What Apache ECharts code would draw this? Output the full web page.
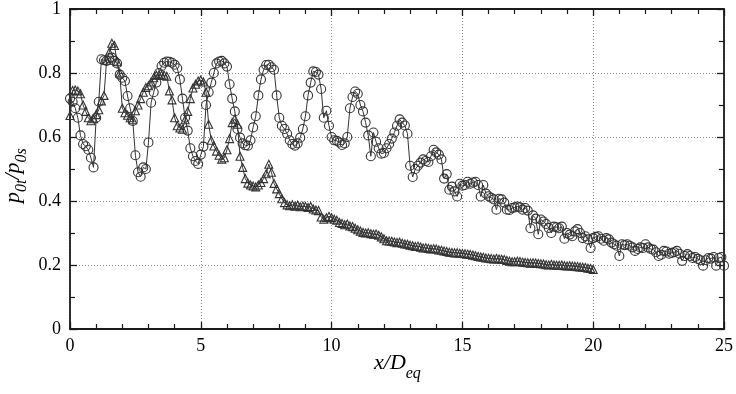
<!DOCTYPE html>
<html>
<head>
<meta charset="utf-8">
<script src="https://cdn.jsdelivr.net/npm/echarts@6/dist/echarts.min.js"></script>
<style>
html,body{margin:0;padding:0;background:#fff;}
#chart{width:736px;height:394px;}
</style>
</head>
<body>
<div id="chart"></div>
<script>
// x/D_eq tick labels
const xTicks = [0, 5, 10, 15, 20, 25];
const yTicks = [0, 0.2, 0.4, 0.6, 0.8, 1];

// Circle series: [x/D_eq, p0t/p0s]
const circles = [
[0.0,0.72],[0.1,0.71],[0.2,0.69],[0.3,0.66],[0.4,0.605],[0.5,0.578],[0.6,0.571],[0.7,0.56],[0.8,0.535],[0.9,0.505],
[1.0,0.66],[1.1,0.71],[1.2,0.843],[1.3,0.84],[1.4,0.838],[1.5,0.846],[1.6,0.848],[1.7,0.838],[1.8,0.83],[1.9,0.795],
[2.0,0.785],[2.1,0.775],[2.2,0.728],[2.3,0.69],[2.4,0.65],[2.5,0.543],[2.6,0.49],[2.7,0.476],[2.8,0.505],[2.9,0.50],
[3.0,0.583],[3.1,0.707],[3.2,0.74],[3.3,0.77],[3.4,0.80],[3.5,0.822],[3.6,0.832],[3.7,0.836],[3.8,0.835],[3.9,0.832],
[4.0,0.826],[4.1,0.815],[4.2,0.78],[4.3,0.72],[4.4,0.66],[4.5,0.62],[4.6,0.565],[4.7,0.54],[4.8,0.525],[4.9,0.516],
[5.0,0.545],[5.1,0.57],[5.2,0.70],[5.3,0.74],[5.4,0.77],[5.5,0.80],[5.6,0.83],[5.7,0.836],[5.8,0.838],[5.9,0.83],
[6.0,0.82],[6.1,0.765],[6.2,0.72],[6.3,0.68],[6.4,0.625],[6.5,0.598],[6.6,0.58],[6.7,0.574],[6.8,0.573],[6.9,0.59],
[7.0,0.63],[7.1,0.665],[7.2,0.73],[7.3,0.78],[7.4,0.81],[7.5,0.825],[7.6,0.826],[7.7,0.818],[7.8,0.81],[7.9,0.73],
[8.0,0.66],[8.1,0.635],[8.2,0.625],[8.3,0.61],[8.4,0.59],[8.5,0.578],[8.6,0.573],[8.7,0.58],[8.8,0.598],[8.9,0.625],
[9.0,0.665],[9.1,0.73],[9.2,0.77],[9.3,0.805],[9.4,0.803],[9.5,0.795],[9.6,0.75],[9.7,0.66],[9.8,0.682],[9.9,0.635],
[10.0,0.60],[10.1,0.59],[10.2,0.588],[10.3,0.583],[10.4,0.575],[10.5,0.58],[10.6,0.60],[10.7,0.69],[10.8,0.725],[10.9,0.742],
[11.0,0.735],[11.1,0.70],[11.2,0.68],[11.3,0.645],[11.4,0.605],[11.5,0.54],[11.6,0.614],[11.7,0.585],[11.8,0.565],[11.9,0.548],
[12.0,0.55],[12.1,0.565],[12.2,0.578],[12.3,0.595],[12.4,0.614],[12.5,0.635],[12.6,0.655],[12.7,0.645],[12.8,0.636],[12.9,0.61],
[13.0,0.51],[13.1,0.475],[13.2,0.50],[13.3,0.51],[13.4,0.52],[13.5,0.53],[13.6,0.525],[13.7,0.522],[13.8,0.54],[13.9,0.56],
[14.0,0.552],[14.1,0.545],[14.2,0.53],[14.3,0.47],[14.4,0.484],[14.5,0.435],[14.6,0.445],[14.7,0.43],[14.8,0.414],[14.9,0.454],
[15.0,0.448],[15.1,0.45],[15.2,0.46],[15.3,0.454],[15.4,0.458],[15.5,0.46],[15.6,0.45],[15.7,0.414],[15.8,0.45],[15.9,0.423],
[16.0,0.415],[16.1,0.41],[16.2,0.405],[16.3,0.373],[16.4,0.407],[16.5,0.405],[16.6,0.395],[16.7,0.373],[16.8,0.372],[16.9,0.378],
[17.0,0.38],[17.1,0.383],[17.2,0.38],[17.3,0.373],[17.4,0.378],[17.5,0.37],[17.6,0.315],[17.7,0.355],[17.8,0.345],[17.9,0.296],
[18.0,0.342],[18.1,0.336],[18.2,0.328],[18.3,0.316],[18.4,0.30],[18.5,0.32],[18.6,0.318],[18.7,0.315],[18.8,0.32],[18.9,0.282],
[19.0,0.30],[19.1,0.295],[19.2,0.29],[19.3,0.305],[19.4,0.312],[19.5,0.30],[19.6,0.284],[19.7,0.29],[19.8,0.28],[19.9,0.253],
[20.0,0.284],[20.1,0.288],[20.2,0.29],[20.3,0.282],[20.4,0.276],[20.5,0.284],[20.6,0.28],[20.7,0.27],[20.8,0.265],[20.9,0.26],
[21.0,0.228],[21.1,0.265],[21.2,0.262],[21.3,0.265],[21.4,0.26],[21.5,0.255],[21.6,0.244],[21.7,0.25],[21.8,0.255],[21.9,0.253],
[22.0,0.265],[22.1,0.255],[22.2,0.25],[22.3,0.248],[22.4,0.24],[22.5,0.228],[22.6,0.232],[22.7,0.244],[22.8,0.242],[22.9,0.235],
[23.0,0.238],[23.1,0.24],[23.2,0.244],[23.3,0.235],[23.4,0.213],[23.5,0.228],[23.6,0.234],[23.7,0.228],[23.8,0.222],[23.9,0.225],
[24.0,0.219],[24.1,0.215],[24.2,0.198],[24.3,0.215],[24.4,0.222],[24.5,0.22],[24.6,0.225],[24.7,0.198],[24.8,0.222],[24.9,0.225],
[25.0,0.198]
];

// Triangle series: [x/D_eq, p0t/p0s]
const triangles = [
[0.0,0.667],[0.1,0.745],[0.2,0.747],[0.3,0.744],[0.4,0.735],[0.5,0.70],[0.6,0.68],[0.7,0.66],[0.8,0.651],[0.9,0.657],
[1.0,0.67],[1.1,0.685],[1.2,0.713],[1.3,0.73],[1.4,0.84],[1.5,0.865],[1.6,0.893],[1.7,0.886],[1.8,0.835],[1.9,0.80],
[2.0,0.69],[2.1,0.676],[2.2,0.668],[2.3,0.66],[2.4,0.654],[2.5,0.682],[2.6,0.70],[2.7,0.72],[2.8,0.74],[2.9,0.755],
[3.0,0.76],[3.1,0.772],[3.2,0.785],[3.3,0.793],[3.4,0.794],[3.5,0.793],[3.6,0.793],[3.7,0.79],[3.8,0.744],[3.9,0.716],
[4.0,0.66],[4.1,0.635],[4.2,0.628],[4.3,0.624],[4.4,0.654],[4.5,0.68],[4.6,0.72],[4.7,0.753],[4.8,0.765],[4.9,0.775],
[5.0,0.778],[5.1,0.772],[5.2,0.74],[5.3,0.64],[5.4,0.59],[5.5,0.572],[5.6,0.556],[5.7,0.543],[5.8,0.531],[5.9,0.535],
[6.0,0.56],[6.1,0.595],[6.2,0.645],[6.3,0.656],[6.4,0.64],[6.5,0.54],[6.6,0.505],[6.7,0.47],[6.8,0.456],[6.9,0.45],
[7.0,0.447],[7.1,0.444],[7.2,0.45],[7.3,0.458],[7.4,0.47],[7.5,0.485],[7.6,0.515],[7.7,0.49],[7.8,0.455],[7.9,0.438],
[8.0,0.423],[8.1,0.407],[8.2,0.395],[8.3,0.388],[8.4,0.385],[8.5,0.388],[8.6,0.384],[8.7,0.387],[8.8,0.382],[8.9,0.384],
[9.0,0.383],[9.1,0.38],[9.2,0.383],[9.3,0.375],[9.4,0.372],[9.5,0.37],[9.6,0.35],[9.7,0.343],[9.8,0.348],[9.9,0.352],
[10.0,0.348],[10.1,0.343],[10.2,0.34],[10.3,0.333],[10.4,0.33],[10.5,0.326],[10.6,0.328],[10.7,0.322],[10.8,0.32],[10.9,0.315],
[11.0,0.31],[11.1,0.306],[11.2,0.302],[11.3,0.30],[11.4,0.301],[11.5,0.298],[11.6,0.296],[11.7,0.297],[11.8,0.293],[11.9,0.288],
[12.0,0.282],[12.1,0.276],[12.2,0.275],[12.3,0.274],[12.4,0.272],[12.5,0.27],[12.6,0.271],[12.7,0.268],[12.8,0.266],[12.9,0.265],
[13.0,0.262],[13.1,0.26],[13.2,0.258],[13.3,0.259],[13.4,0.256],[13.5,0.253],[13.6,0.254],[13.7,0.252],[13.8,0.25],[13.9,0.251],
[14.0,0.25],[14.1,0.247],[14.2,0.246],[14.3,0.244],[14.4,0.242],[14.5,0.24],[14.6,0.239],[14.7,0.238],[14.8,0.238],[14.9,0.237],
[15.0,0.236],[15.1,0.235],[15.2,0.234],[15.3,0.233],[15.4,0.231],[15.5,0.229],[15.6,0.227],[15.7,0.225],[15.8,0.224],[15.9,0.222],
[16.0,0.221],[16.1,0.22],[16.2,0.219],[16.3,0.22],[16.4,0.219],[16.5,0.218],[16.6,0.217],[16.7,0.214],[16.8,0.212],[16.9,0.21],
[17.0,0.21],[17.1,0.212],[17.2,0.211],[17.3,0.209],[17.4,0.208],[17.5,0.207],[17.6,0.206],[17.7,0.207],[17.8,0.206],[17.9,0.205],
[18.0,0.204],[18.1,0.203],[18.2,0.201],[18.3,0.20],[18.4,0.202],[18.5,0.20],[18.6,0.199],[18.7,0.199],[18.8,0.20],[18.9,0.198],
[19.0,0.197],[19.1,0.198],[19.2,0.197],[19.3,0.196],[19.4,0.195],[19.5,0.194],[19.6,0.193],[19.7,0.192],[19.8,0.19],[19.9,0.189],
[20.0,0.186]
];

const serif = 'Liberation Serif';
const chart = echarts.init(document.getElementById('chart'), null, {renderer: 'canvas'});

const axisCommon = {
  type: 'value',
  axisLine: {show: true, onZero: false, lineStyle: {color: '#1a1a1a', width: 1.8}},
  axisTick: {show: true, inside: true, length: 7, lineStyle: {color: '#1a1a1a', width: 1.3}},
  minorTick: {show: true, length: 5, lineStyle: {color: '#1a1a1a', width: 1.2}},
  splitLine: {show: false},
  minorSplitLine: {show: false}
};

const labelStyle = {show: true, margin: 8, color: '#000', fontFamily: serif, fontSize: 18, fontWeight: 'normal'};

chart.setOption({
  animation: false,
  backgroundColor: '#fff',
  textStyle: {fontFamily: serif},
  grid: {left: 70, right: 7, top: 5, bottom: 65, containLabel: false},
  xAxis: [
    Object.assign({}, axisCommon, {
      position: 'bottom', min: xTicks[0], max: xTicks[xTicks.length - 1], interval: 5,
      minorTick: Object.assign({}, axisCommon.minorTick, {splitNumber: 5}),
      splitLine: {show: true, lineStyle: {color: '#888', type: [1, 2], width: 1}},
      axisLabel: labelStyle
    }),
    Object.assign({}, axisCommon, {
      position: 'top', min: xTicks[0], max: xTicks[xTicks.length - 1], interval: 5,
      minorTick: Object.assign({}, axisCommon.minorTick, {splitNumber: 5}),
      axisLabel: {show: false}
    })
  ],
  yAxis: [
    Object.assign({}, axisCommon, {
      position: 'left', min: yTicks[0], max: yTicks[yTicks.length - 1], interval: 0.2,
      minorTick: Object.assign({}, axisCommon.minorTick, {splitNumber: 2}),
      splitLine: {show: true, lineStyle: {color: '#888', type: [1, 2], width: 1}},
      axisLabel: Object.assign({}, labelStyle, {margin: 9})
    }),
    Object.assign({}, axisCommon, {
      position: 'right', min: yTicks[0], max: yTicks[yTicks.length - 1], interval: 0.2,
      minorTick: Object.assign({}, axisCommon.minorTick, {splitNumber: 2}),
      axisLabel: {show: false}
    })
  ],
  series: [
    {
      type: 'line', name: 'circles', data: circles, xAxisIndex: 0, yAxisIndex: 0,
      symbol: 'circle', symbolSize: 9, showAllSymbol: true,
      lineStyle: {color: '#333', width: 1},
      itemStyle: {color: 'rgba(255,255,255,0)', borderColor: '#333', borderWidth: 1.1}
    },
    {
      type: 'line', name: 'triangles', data: triangles, xAxisIndex: 0, yAxisIndex: 0,
      symbol: 'triangle', symbolSize: 8, showAllSymbol: true,
      lineStyle: {color: '#333', width: 1},
      itemStyle: {color: 'rgba(255,255,255,0)', borderColor: '#333', borderWidth: 1.1}
    }
  ],
  graphic: [
    {
      type: 'text', left: 374, top: 352,
      style: {
        text: '{i|x/D}{s|eq}',
        rich: {
          i: {fontFamily: serif, fontStyle: 'italic', fontSize: 22, fill: '#000', verticalAlign: 'top', lineHeight: 22},
          s: {fontFamily: serif, fontStyle: 'italic', fontSize: 16, fill: '#000', verticalAlign: 'top', lineHeight: 22, padding: [14, 0, 0, 0]}
        }
      }
    },
    {
      type: 'text', x: 2, y: 203, rotation: Math.PI / 2,
      style: {
        text: '{i|p}{s|0t}{i|/p}{s|0s}',
        rich: {
          i: {fontFamily: serif, fontStyle: 'italic', fontSize: 22, fill: '#000', verticalAlign: 'top', lineHeight: 22},
          s: {fontFamily: serif, fontStyle: 'italic', fontSize: 16, fill: '#000', verticalAlign: 'top', lineHeight: 22, padding: [12, 0, 0, 0]}
        }
      }
    }
  ]
});
</script>
</body>
</html>
